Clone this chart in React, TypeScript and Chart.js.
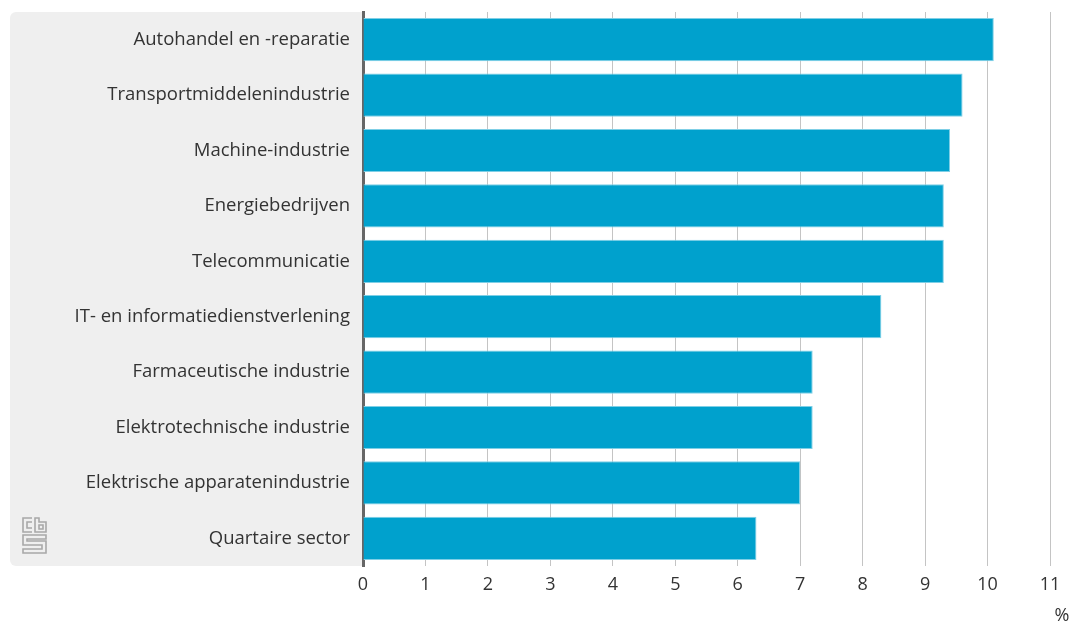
import React, { useEffect, useRef } from 'react';
import { Chart, registerables } from 'chart.js';

Chart.register(...registerables);

const categories = [
  'Autohandel en -reparatie',
  'Transportmiddelenindustrie',
  'Machine-industrie',
  'Energiebedrijven',
  'Telecommunicatie',
  'IT- en informatiedienstverlening',
  'Farmaceutische industrie',
  'Elektrotechnische industrie',
  'Elektrische apparatenindustrie',
  'Quartaire sector',
];
const values = [10.1, 9.6, 9.4, 9.3, 9.3, 8.3, 7.2, 7.2, 7.0, 6.3];
const xMin = 0;
const xMax = 11;
const unitLabel = '%';

const FONT = "'Open Sans', 'Noto Sans', sans-serif";

const decorPlugin = {
  id: 'decor',
  beforeDraw(chart: any) {
    const { ctx, chartArea } = chart;
    ctx.save();
    ctx.fillStyle = '#efefef';
    const x = 10;
    const y = chartArea.top;
    const w = chartArea.left - x;
    const h = chartArea.bottom - chartArea.top;
    ctx.beginPath();
    (ctx as any).roundRect(x, y, w, h, [6, 0, 0, 6]);
    ctx.fill();
    ctx.restore();
  },
  afterDraw(chart: any) {
    const { ctx, chartArea } = chart;
    ctx.save();
    ctx.fillStyle = '#333';
    ctx.font = `18px ${FONT}`;
    ctx.textAlign = 'center';
    ctx.textBaseline = 'middle';
    ctx.fillText(unitLabel, 1062, 616);
    // CBS logo (approximate)
    const lx = 22;
    const ly = chartArea.bottom - 49;
    ctx.strokeStyle = '#a8a8a8';
    ctx.lineWidth = 1.6;
    ctx.beginPath();
    // c
    ctx.moveTo(lx + 10, ly + 1);
    ctx.lineTo(lx + 1, ly + 1);
    ctx.lineTo(lx + 1, ly + 15);
    ctx.lineTo(lx + 10, ly + 15);
    ctx.moveTo(lx + 10, ly + 5);
    ctx.lineTo(lx + 5, ly + 5);
    ctx.lineTo(lx + 5, ly + 11);
    ctx.lineTo(lx + 10, ly + 11);
    // b
    ctx.moveTo(lx + 13, ly + 1);
    ctx.lineTo(lx + 13, ly + 15);
    ctx.lineTo(lx + 24, ly + 15);
    ctx.lineTo(lx + 24, ly + 5);
    ctx.lineTo(lx + 17, ly + 5);
    ctx.lineTo(lx + 17, ly + 1);
    ctx.closePath();
    ctx.rect(lx + 17, ly + 8, 4, 4);
    // S
    ctx.moveTo(lx + 24, ly + 18);
    ctx.lineTo(lx + 1, ly + 18);
    ctx.lineTo(lx + 1, ly + 28);
    ctx.lineTo(lx + 20, ly + 28);
    ctx.lineTo(lx + 20, ly + 32);
    ctx.lineTo(lx + 1, ly + 32);
    ctx.lineTo(lx + 1, ly + 36);
    ctx.lineTo(lx + 24, ly + 36);
    ctx.lineTo(lx + 24, ly + 24);
    ctx.lineTo(lx + 5, ly + 24);
    ctx.lineTo(lx + 5, ly + 22);
    ctx.lineTo(lx + 24, ly + 22);
    ctx.closePath();
    ctx.stroke();
    ctx.restore();
  },
};

export default function App() {
  const ref = useRef<HTMLCanvasElement | null>(null);
  useEffect(() => {
    if (!ref.current) return;
    const chart = new Chart(ref.current, {
      type: 'bar',
      data: {
        labels: categories,
        datasets: [
          {
            data: values,
            backgroundColor: '#00a1cd',
            borderColor: '#7fcfe6',
            borderWidth: 1,
            barPercentage: 0.78,
            categoryPercentage: 1,
          },
        ],
      },
      options: {
        indexAxis: 'y',
        animation: false,
        responsive: true,
        maintainAspectRatio: false,
        layout: { padding: { top: 12, right: 22, left: 0, bottom: 0 } },
        plugins: {
          legend: { display: false },
          tooltip: { enabled: false },
        },
        scales: {
          x: {
            min: xMin,
            max: xMax,
            position: 'bottom',
            ticks: {
              stepSize: 1,
              color: '#333',
              font: { family: FONT, size: 18 },
              padding: 8,
            },
            grid: { color: '#c4c4c4', lineWidth: 1, drawTicks: false, tickLength: 0 },
            border: { display: false },
            afterFit: (s: any) => {
              s.height = 58;
              s.paddingLeft = 0;
              s.paddingRight = 0;
            },
          },
          y: {
            z: 1,
            ticks: {
              color: '#333',
              font: { family: FONT, size: 18.5 },
              padding: 13,
            },
            grid: { display: false, drawTicks: false },
            border: { display: true, color: '#666', width: 3 },
            afterFit: (s: any) => {
              s.width = 363;
              s.paddingTop = 0;
              s.paddingBottom = 0;
            },
          },
        },
      },
      plugins: [decorPlugin],
    });
    return () => chart.destroy();
  }, []);
  return (
    <div style={{ position: 'absolute', left: 0, top: 0, width: 1072, height: 624 }}>
      <canvas ref={ref} />
    </div>
  );
}
